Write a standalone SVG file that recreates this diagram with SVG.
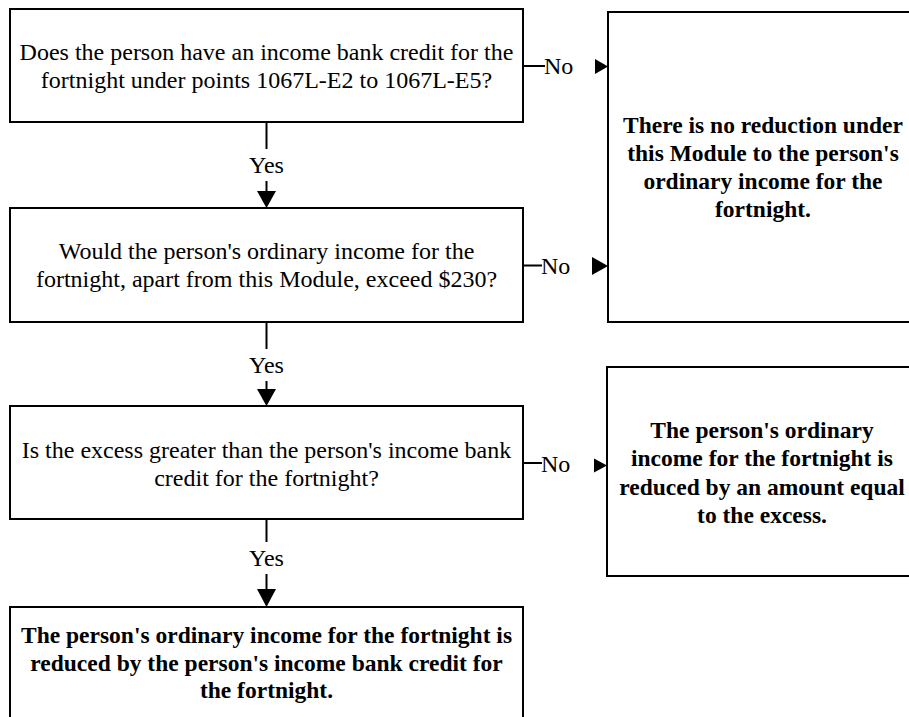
<svg xmlns="http://www.w3.org/2000/svg" width="909" height="717" viewBox="0 0 909 717">
<style>
.box{fill:#fff;stroke:#000;stroke-width:2}
.t{font-family:'Liberation Serif','Times New Roman','DejaVu Serif',serif;font-size:24px;fill:#000;text-anchor:middle}
.b{font-weight:bold;font-size:23.5px}
.lbl{font-family:'Liberation Serif','Times New Roman','DejaVu Serif',serif;font-size:24px;fill:#000}
.ln{stroke:#000;stroke-width:2;fill:none}
.ah{fill:#000;stroke:none}
</style>
<rect width="909" height="717" fill="#fff"/>
<g id="q1">
<rect class="box" x="10" y="9" width="513" height="113"/>
<text class="t" x="266.5" y="60">Does the person have an income bank credit for the</text>
<text class="t" x="266.5" y="87.5">fortnight under points 1067L-E2 to 1067L-E5?</text>
</g>
<g id="q2">
<rect class="box" x="10" y="208" width="513" height="114"/>
<text class="t" x="266.5" y="258.5">Would the person's ordinary income for the</text>
<text class="t" x="266.5" y="286.5">fortnight, apart from this Module, exceed $230?</text>
</g>
<g id="q3">
<rect class="box" x="10" y="406" width="513" height="113"/>
<text class="t" x="266.5" y="457.5">Is the excess greater than the person's income bank</text>
<text class="t" x="266.5" y="485.5">credit for the fortnight?</text>
</g>
<g id="r1">
<rect class="box" x="10" y="607" width="513" height="130"/>
<text class="t b" x="266.5" y="643">The person's ordinary income for the fortnight is</text>
<text class="t b" x="266.5" y="670.5">reduced by the person's income bank credit for</text>
<text class="t b" x="266.5" y="698">the fortnight.</text>
</g>
<g id="r2">
<rect class="box" x="608" y="12" width="320" height="310"/>
<text class="t b" x="763" y="133">There is no reduction under</text>
<text class="t b" x="763" y="161">this Module to the person's</text>
<text class="t b" x="763" y="189">ordinary income for the</text>
<text class="t b" x="763" y="217">fortnight.</text>
</g>
<g id="r3">
<rect class="box" x="607" y="367" width="320" height="209"/>
<text class="t b" x="762" y="437.5">The person's ordinary</text>
<text class="t b" x="762" y="466">income for the fortnight is</text>
<text class="t b" x="762" y="494.5">reduced by an amount equal</text>
<text class="t b" x="762" y="523">to the excess.</text>
</g>
<g id="connectors">
<line class="ln" x1="266.5" y1="122" x2="266.5" y2="149"/>
<text class="lbl" x="266.5" y="173" text-anchor="middle">Yes</text>
<line class="ln" x1="266.5" y1="181" x2="266.5" y2="192"/>
<polygon class="ah" points="257,191 276,191 266.5,208"/>
<line class="ln" x1="266.5" y1="322" x2="266.5" y2="349"/>
<text class="lbl" x="266.5" y="373" text-anchor="middle">Yes</text>
<line class="ln" x1="266.5" y1="381" x2="266.5" y2="390"/>
<polygon class="ah" points="257,389 276,389 266.5,406"/>
<line class="ln" x1="266.5" y1="519" x2="266.5" y2="542"/>
<text class="lbl" x="266.5" y="566" text-anchor="middle">Yes</text>
<line class="ln" x1="266.5" y1="574" x2="266.5" y2="590"/>
<polygon class="ah" points="257,589 276,589 266.5,607"/>
<line class="ln" x1="523" y1="66" x2="545" y2="66"/>
<text class="lbl" x="544" y="74">No</text>
<polygon class="ah" points="595,59 608,66.5 595,74"/>
<line class="ln" x1="523" y1="265.5" x2="542" y2="265.5"/>
<text class="lbl" x="541" y="274">No</text>
<polygon class="ah" points="592,257 608,266 592,275"/>
<line class="ln" x1="523" y1="463" x2="542" y2="463"/>
<text class="lbl" x="541" y="471.5">No</text>
<polygon class="ah" points="594,458.5 607,465.5 594,472.5"/>
</g>
</svg>
